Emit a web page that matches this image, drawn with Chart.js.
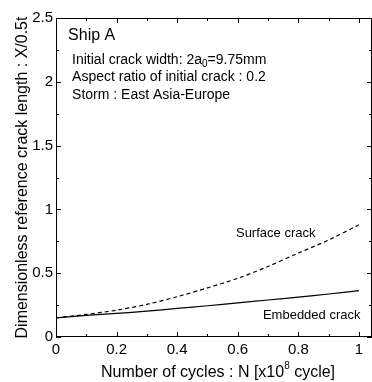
<!DOCTYPE html>
<html>
<head>
<meta charset="utf-8">
<script src="https://cdn.jsdelivr.net/npm/chart.js@4/dist/chart.umd.min.js"></script>
<style>
  html, body { margin: 0; padding: 0; background: #fff; }
  #wrap { position: relative; width: 372px; height: 382px; }
</style>
</head>
<body>
<div id="wrap"><canvas id="chart"></canvas></div>
<script>
// number of cycles, x10^8
var cycles = [0, 0.1, 0.2, 0.3, 0.4, 0.5, 0.6, 0.7, 0.8, 0.9, 1.0];
// X/0.5t for each crack type
var surfaceCrack = [0.15, 0.177, 0.21, 0.256, 0.316, 0.385, 0.46, 0.553, 0.658, 0.76, 0.88];
var embeddedCrack = [0.15, 0.169, 0.185, 0.203, 0.224, 0.245, 0.267, 0.29, 0.313, 0.337, 0.363];

var xMajorTicks = [0, 0.2, 0.4, 0.6, 0.8, 1];
var xMinorTicks = [0.1, 0.3, 0.5, 0.7, 0.9];
var yMajorTicks = [0, 0.5, 1, 1.5, 2, 2.5];
var yMinorTicks = [0.25, 0.75, 1.25, 1.75, 2.25];

var infoLines = [
  ["Initial crack width: 2a", "0", "=9.75mm"],
  ["Aspect ratio of initial crack : 0.2"],
  ["Storm : East Asia-Europe"]
];

var FONT = "'Liberation Sans', Arial, sans-serif";

function toPoints(ys) {
  return cycles.map(function (x, i) {
    return { x: x, y: ys[i] };
  });
}

// box round the plot with inward ticks on every side
var frameTicks = {
  id: "frameTicks",
  afterDatasetsDraw: function (chart) {
    var c = chart.ctx, a = chart.chartArea;
    var xs = chart.scales.x, ys = chart.scales.y;
    c.save();
    c.strokeStyle = "#000";
    c.lineWidth = 1;
    c.strokeRect(a.left + 0.5, a.top + 0.5, a.right - a.left - 1, a.bottom - a.top - 1);
    c.beginPath();
    function xt(list, len) {
      list.forEach(function (v) {
        var px = Math.round(xs.getPixelForValue(v)) + 0.5;
        c.moveTo(px, a.bottom);
        c.lineTo(px, a.bottom - len);
        c.moveTo(px, a.top);
        c.lineTo(px, a.top + len);
      });
    }
    function yt(list, len) {
      list.forEach(function (v) {
        var py = Math.round(ys.getPixelForValue(v)) + 0.5;
        c.moveTo(a.left, py);
        c.lineTo(a.left + len, py);
        c.moveTo(a.right, py);
        c.lineTo(a.right - len, py);
      });
    }
    xt(xMajorTicks, 5);
    xt(xMinorTicks, 3);
    yt(yMajorTicks, 5);
    yt(yMinorTicks, 3);
    c.stroke();
    c.restore();
  }
};

// text notes inside the plot and the x axis title with its exponent
var notes = {
  id: "notes",
  afterDraw: function (chart) {
    var c = chart.ctx, a = chart.chartArea;
    var xs = chart.scales.x, ys = chart.scales.y;
    c.save();
    c.fillStyle = "#000";
    c.textBaseline = "middle";
    c.textAlign = "left";

    c.font = "16px " + FONT;
    c.fillText("Ship A", xs.getPixelForValue(0.04), ys.getPixelForValue(2.36));

    var rows = [2.17, 2.035, 1.895];
    infoLines.forEach(function (parts, i) {
      var x = xs.getPixelForValue(0.053), y = ys.getPixelForValue(rows[i]);
      parts.forEach(function (p, j) {
        if (j === 1) {
          c.font = "10px " + FONT;
          c.fillText(p, x, y + 4);
        } else {
          c.font = "14px " + FONT;
          c.fillText(p, x, y);
        }
        x += c.measureText(p).width;
      });
    });

    c.font = "13px " + FONT;
    c.fillText("Surface crack", xs.getPixelForValue(0.594), ys.getPixelForValue(0.815));
    c.fillText("Embedded crack", xs.getPixelForValue(0.683), ys.getPixelForValue(0.172));

    // x axis title
    var t1 = "Number of cycles : N [x10", t2 = "8", t3 = " cycle]";
    c.font = "16px " + FONT;
    var w1 = c.measureText(t1).width, w3 = c.measureText(t3).width;
    c.font = "10px " + FONT;
    var w2 = c.measureText(t2).width;
    var x0 = (a.left + a.right) / 2 + 4 - (w1 + w2 + w3) / 2;
    var ty = 373;
    c.font = "16px " + FONT;
    c.fillText(t1, x0, ty);
    c.font = "10px " + FONT;
    c.fillText(t2, x0 + w1, ty - 7);
    c.font = "16px " + FONT;
    c.fillText(t3, x0 + w1 + w2, ty);
    c.restore();
  }
};

Chart.defaults.font.family = FONT;
Chart.defaults.color = "#000";

new Chart(document.getElementById("chart"), {
  type: "line",
  data: {
    datasets: [
      {
        label: "Surface crack",
        data: toPoints(surfaceCrack),
        borderColor: "#000",
        borderWidth: 1.2,
        borderDash: [4, 3],
        pointRadius: 0,
        tension: 0.3,
        fill: false
      },
      {
        label: "Embedded crack",
        data: toPoints(embeddedCrack),
        borderColor: "#000",
        borderWidth: 1.2,
        pointRadius: 0,
        tension: 0.3,
        fill: false
      }
    ]
  },
  options: {
    responsive: true,
    maintainAspectRatio: false,
    animation: false,
    layout: { padding: { top: 18, right: 0, left: 0, bottom: 0 } },
    plugins: {
      legend: { display: false },
      tooltip: { enabled: false }
    },
    scales: {
      x: {
        type: "linear",
        min: 0,
        max: 1.043,
        grid: { display: false, drawTicks: false },
        border: { display: false },
        afterBuildTicks: function (s) {
          s.ticks = xMajorTicks.map(function (v) { return { value: v }; });
        },
        afterFit: function (s) { s.height = 45; },
        ticks: {
          font: { size: 15 },
          padding: 4,
          maxRotation: 0,
          callback: function (v) { return String(v); }
        }
      },
      y: {
        min: 0,
        max: 2.5,
        grid: { display: false, drawTicks: false },
        border: { display: false },
        afterBuildTicks: function (s) {
          s.ticks = yMajorTicks.map(function (v) { return { value: v }; });
        },
        afterFit: function (s) { s.width = 56; },
        ticks: {
          font: { size: 15 },
          padding: 3,
          callback: function (v) { return String(v); }
        },
        title: {
          display: true,
          text: "Dimensionless reference crack length : X/0.5t",
          font: { size: 16 },
          padding: { top: 13, bottom: 0 }
        }
      }
    }
  },
  plugins: [frameTicks, notes]
});
</script>
</body>
</html>
